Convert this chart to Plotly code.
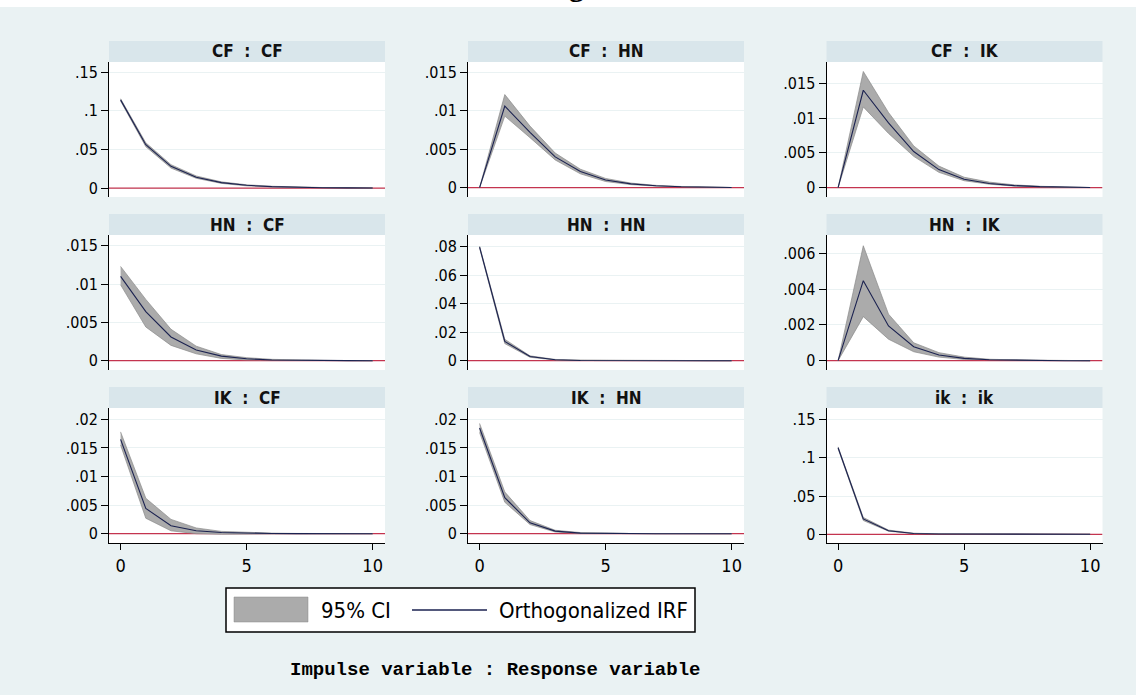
import plotly.graph_objects as go

W, H = 1136, 695

# ---------------- data ----------------
steps = list(range(11))

panel_titles = ["CF  :  CF", "CF  :  HN", "CF  :  IK",
                "HN  :  CF", "HN  :  HN", "HN  :  IK",
                "IK  :  CF", "IK  :  HN", "ik  :  ik"]

cf_cf_irf = [0.114, 0.056, 0.028, 0.014, 0.007, 0.0035, 0.0018, 0.0009, 0.00045, 0.0002, 0.0001]
cf_cf_lo = [0.1125, 0.0535, 0.0258, 0.0126, 0.006, 0.0028, 0.0013, 0.0006, 0.0003, 0.0001, 0.00005]
cf_cf_hi = [0.1155, 0.0585, 0.0302, 0.0156, 0.008, 0.0042, 0.0023, 0.0012, 0.0006, 0.0003, 0.00015]

cf_hn_irf = [0.0, 0.0106, 0.0072, 0.0040, 0.0021, 0.0010, 0.0005, 0.00025, 0.00012, 0.00006, 0.00003]
cf_hn_lo = [0.0, 0.0093, 0.0065, 0.0036, 0.0018, 0.0008, 0.0004, 0.0002, 0.0001, 0.00004, 0.00002]
cf_hn_hi = [0.0, 0.0121, 0.0080, 0.0045, 0.0024, 0.0012, 0.0006, 0.0003, 0.00015, 0.00008, 0.00004]

cf_ik_irf = [0.0, 0.0140, 0.0093, 0.0052, 0.0026, 0.0012, 0.0006, 0.0003, 0.00015, 0.00007, 0.00003]
cf_ik_lo = [0.0, 0.0116, 0.0078, 0.0045, 0.0022, 0.0010, 0.0005, 0.00022, 0.0001, 0.00005, 0.00002]
cf_ik_hi = [0.0, 0.0167, 0.0108, 0.0060, 0.0031, 0.0015, 0.0008, 0.0004, 0.0002, 0.0001, 0.00005]

hn_cf_irf = [0.0110, 0.0064, 0.0031, 0.0014, 0.0006, 0.00025, 0.0001, 0.00004, 0.00002, 0.00001, 0.0]
hn_cf_lo = [0.0099, 0.0044, 0.0020, 0.0009, 0.0003, 0.0001, 0.00003, 0.00001, 0.0, 0.0, 0.0]
hn_cf_hi = [0.0123, 0.0080, 0.0041, 0.0019, 0.0008, 0.0004, 0.00018, 0.00008, 0.00004, 0.00002, 0.00001]

hn_hn_irf = [0.0797, 0.0135, 0.0029, 0.0007, 0.00015, 0.00004, 0.00001, 0.0, 0.0, 0.0, 0.0]
hn_hn_lo = [0.0790, 0.0120, 0.0024, 0.0005, 0.0001, 0.00002, 0.0, 0.0, 0.0, 0.0, 0.0]
hn_hn_hi = [0.0804, 0.0150, 0.0034, 0.0009, 0.0002, 0.00006, 0.00002, 0.00001, 0.0, 0.0, 0.0]

hn_ik_irf = [0.0, 0.00447, 0.00194, 0.00078, 0.00032, 0.00013, 0.00005, 0.00002, 0.00001, 0.0, 0.0]
hn_ik_lo = [0.0, 0.00246, 0.0012, 0.0005, 0.0002, 0.00007, 0.00003, 0.00001, 0.0, 0.0, 0.0]
hn_ik_hi = [0.0, 0.00642, 0.0026, 0.0010, 0.00045, 0.0002, 0.00008, 0.00003, 0.00001, 0.00001, 0.0]

ik_cf_irf = [0.0165, 0.0044, 0.0014, 0.0005, 0.0002, 0.00008, 0.00003, 0.00001, 0.0, 0.0, 0.0]
ik_cf_lo = [0.0155, 0.0027, 0.0005, 0.0, -0.0001, -0.0001, -0.00005, -0.00002, 0.0, 0.0, 0.0]
ik_cf_hi = [0.0178, 0.0062, 0.0025, 0.0010, 0.0004, 0.0002, 0.0001, 0.00004, 0.00002, 0.00001, 0.0]

ik_hn_irf = [0.0185, 0.0063, 0.0019, 0.00045, 0.0001, 0.00003, 0.00001, 0.0, 0.0, 0.0, 0.0]
ik_hn_lo = [0.0177, 0.0055, 0.0016, 0.0003, 0.00003, 0.0, 0.0, 0.0, 0.0, 0.0, 0.0]
ik_hn_hi = [0.0193, 0.0073, 0.0023, 0.0006, 0.0002, 0.00008, 0.00003, 0.00001, 0.0, 0.0, 0.0]

ik_ik_irf = [0.113, 0.0200, 0.0047, 0.0011, 0.0003, 0.0001, 0.00003, 0.00001, 0.0, 0.0, 0.0]
ik_ik_lo = [0.1118, 0.0180, 0.0040, 0.0008, 0.0002, 0.00005, 0.00001, 0.0, 0.0, 0.0, 0.0]
ik_ik_hi = [0.1142, 0.0220, 0.0055, 0.0014, 0.0005, 0.0002, 0.00006, 0.00002, 0.00001, 0.0, 0.0]

panels_irf = [cf_cf_irf, cf_hn_irf, cf_ik_irf, hn_cf_irf, hn_hn_irf, hn_ik_irf, ik_cf_irf, ik_hn_irf, ik_ik_irf]
panels_lo = [cf_cf_lo, cf_hn_lo, cf_ik_lo, hn_cf_lo, hn_hn_lo, hn_ik_lo, ik_cf_lo, ik_hn_lo, ik_ik_lo]
panels_hi = [cf_cf_hi, cf_hn_hi, cf_ik_hi, hn_cf_hi, hn_hn_hi, hn_ik_hi, ik_cf_hi, ik_hn_hi, ik_ik_hi]

ytick_vals = [
    [0, 0.05, 0.1, 0.15], [0, 0.005, 0.01, 0.015], [0, 0.005, 0.01, 0.015],
    [0, 0.005, 0.01, 0.015], [0, 0.02, 0.04, 0.06, 0.08], [0, 0.002, 0.004, 0.006],
    [0, 0.005, 0.01, 0.015, 0.02], [0, 0.005, 0.01, 0.015, 0.02], [0, 0.05, 0.1, 0.15],
]
ytick_text = [
    ["0", ".05", ".1", ".15"], ["0", ".005", ".01", ".015"], ["0", ".005", ".01", ".015"],
    ["0", ".005", ".01", ".015"], ["0", ".02", ".04", ".06", ".08"], ["0", ".002", ".004", ".006"],
    ["0", ".005", ".01", ".015", ".02"], ["0", ".005", ".01", ".015", ".02"], ["0", ".05", ".1", ".15"],
]
xtick_vals = [0, 5, 10]
xtick_text = ["0", "5", "10"]

legend_ci = "95% CI"
legend_irf = "Orthogonalized IRF"
note_text = "Impulse variable : Response variable"

# ---------------- layout geometry ----------------
yranges = [
    [-0.0116, 0.163], [-0.00121, 0.01633], [-0.00134, 0.01806],
    [-0.00121, 0.0164], [-0.00653, 0.0882], [-0.00052, 0.00702],
    [-0.00163, 0.02198], [-0.00163, 0.0220], [-0.0114, 0.165],
]
xrange_ = [-0.46, 10.49]
col_px = [(109, 385), (468, 744), (826.5, 1102.5)]
row_px = [(62, 197), (235, 370), (408, 543)]
strip_h = 21

BG = "#EAF2F3"
STRIP = "#D9E6EB"
GRID = "#EAF2F3"
BAND = "#ABABAB"
BAND_EDGE = "#8A8A8A"
LINE = "#1B2250"
ZERO = "#C4344F"
NARROW = "Liberation Sans Narrow, DejaVu Sans Condensed, Arial Narrow, sans-serif"
MONO = "Liberation Mono, DejaVu Sans Mono, monospace"


def px_x(x):
    return x / W


def px_y(y):
    return 1 - y / H


fig = go.Figure()
shapes = []
annotations = []

# top white strip
shapes.append(dict(type="rect", xref="paper", yref="paper", x0=0, x1=1,
                   y0=px_y(7), y1=1, fillcolor="white", line=dict(width=0), layer="below"))

for i in range(9):
    r, c = divmod(i, 3)
    n = i + 1
    xa = "x" if n == 1 else f"x{n}"
    ya = "y" if n == 1 else f"y{n}"
    xl = "xaxis" if n == 1 else f"xaxis{n}"
    yl = "yaxis" if n == 1 else f"yaxis{n}"

    # zero reference line spanning the full x range (drawn first: under the band)
    fig.add_trace(go.Scatter(
        x=xrange_, y=[0, 0], mode="lines", line=dict(color=ZERO, width=1.2),
        hoverinfo="skip", showlegend=False, xaxis=xa, yaxis=ya))

    lo, hi, irf = panels_lo[i], panels_hi[i], panels_irf[i]
    fig.add_trace(go.Scatter(
        x=steps + steps[::-1], y=hi + lo[::-1], fill="toself", fillcolor=BAND,
        line=dict(color=BAND_EDGE, width=0.7), mode="lines", hoverinfo="skip",
        showlegend=False, xaxis=xa, yaxis=ya))
    fig.add_trace(go.Scatter(
        x=steps, y=irf, mode="lines", line=dict(color=LINE, width=1.1),
        showlegend=False, xaxis=xa, yaxis=ya))

    x0p, x1p = col_px[c]
    y0p, y1p = row_px[r]
    bottom = (r == 2)
    fig.layout[xl] = dict(
        domain=[px_x(x0p), px_x(x1p)], range=xrange_, anchor=ya,
        showgrid=False, zeroline=False,
        showline=bottom, linecolor="black", linewidth=1,
        ticks="outside" if bottom else "", ticklen=6, tickcolor="black",
        tickvals=xtick_vals, ticktext=xtick_text, showticklabels=bottom,
        tickfont=dict(family=NARROW, size=18, color="black"))
    fig.layout[yl] = dict(
        domain=[px_y(y1p), px_y(y0p)], range=yranges[i], anchor=xa,
        showgrid=True, gridcolor=GRID, gridwidth=1, zeroline=False,
        showline=True, linecolor="black", linewidth=1,
        ticks="outside", ticklen=7, tickcolor="black",
        tickvals=ytick_vals[i], ticktext=ytick_text[i],
        tickfont=dict(family=NARROW, size=16, color="black"))

    # header strip
    shapes.append(dict(type="rect", xref="paper", yref="paper",
                       x0=px_x(x0p), x1=px_x(x1p), y0=px_y(y0p), y1=px_y(y0p - strip_h),
                       fillcolor=STRIP, line=dict(width=0), layer="below"))
    annotations.append(dict(xref="paper", yref="paper", x=px_x((x0p + x1p) / 2),
                            y=px_y(y0p - strip_h / 2), text=f"<b>{panel_titles[i]}</b>",
                            showarrow=False, xanchor="center", yanchor="middle",
                            font=dict(family=NARROW, size=17, color="#111111")))

# legend box
shapes.append(dict(type="rect", xref="paper", yref="paper", x0=px_x(226), x1=px_x(695),
                   y0=px_y(632), y1=px_y(588), fillcolor="white", line=dict(color="black", width=1.5)))
shapes.append(dict(type="rect", xref="paper", yref="paper", x0=px_x(234), x1=px_x(308),
                   y0=px_y(622), y1=px_y(597), fillcolor=BAND, line=dict(color=BAND_EDGE, width=0.5)))
shapes.append(dict(type="line", xref="paper", yref="paper", x0=px_x(412), x1=px_x(487),
                   y0=px_y(610), y1=px_y(610), line=dict(color=LINE, width=1.5)))
annotations.append(dict(xref="paper", yref="paper", x=px_x(319), y=px_y(610), text=legend_ci,
                        showarrow=False, xanchor="left", yanchor="middle",
                        font=dict(family=NARROW, size=22, color="black")))
annotations.append(dict(xref="paper", yref="paper", x=px_x(497), y=px_y(610), text=legend_irf,
                        showarrow=False, xanchor="left", yanchor="middle",
                        font=dict(family=NARROW, size=22, color="black")))
annotations.append(dict(xref="paper", yref="paper", x=px_x(495), y=px_y(670), text=f"<b>{note_text}</b>",
                        showarrow=False, xanchor="center", yanchor="middle",
                        font=dict(family=MONO, size=19, color="black")))
# cut-off title glyph at the very top
annotations.append(dict(xref="paper", yref="paper", x=px_x(576), y=1, text="<b>g</b>",
                        showarrow=False, xanchor="center", yanchor="bottom", yshift=-4,
                        font=dict(family="Liberation Serif, DejaVu Serif, serif", size=30, color="black")))

fig.update_layout(
    width=W, height=H, margin=dict(l=0, r=0, t=0, b=0),
    paper_bgcolor=BG, plot_bgcolor="white",
    shapes=shapes, annotations=annotations, showlegend=False,
)

fig.write_html("out.html")
